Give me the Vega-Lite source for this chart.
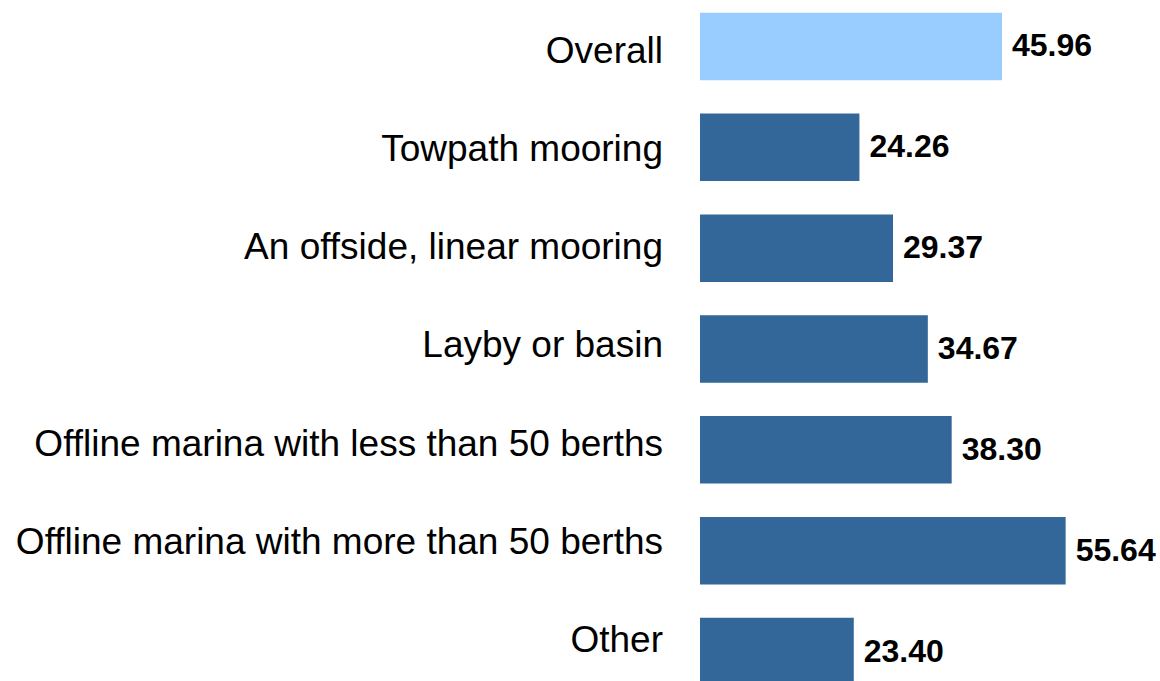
{
  "$schema": "https://vega.github.io/schema/vega-lite/v6.json",
  "autosize": {"type": "none"},
  "width": 460,
  "height": 706,
  "padding": {"left": 700, "top": -4, "right": 0, "bottom": 0},
  "background": "white",
  "config": {"view": {"stroke": null}},
  "data": {
    "values": [
      {"category": "Overall", "value": 45.96, "group": "overall"},
      {"category": "Towpath mooring", "value": 24.26, "group": "type"},
      {"category": "An offside, linear mooring", "value": 29.37, "group": "type"},
      {"category": "Layby or basin", "value": 34.67, "group": "type"},
      {"category": "Offline marina with less than 50 berths", "value": 38.30, "group": "type"},
      {"category": "Offline marina with more than 50 berths", "value": 55.64, "group": "type"},
      {"category": "Other", "value": 23.40, "group": "type"}
    ]
  },
  "resolve": {"scale": {"y": "independent"}},
  "layer": [
    {
      "layer": [
        {
          "mark": {"type": "bar"},
          "encoding": {
            "color": {
              "field": "group",
              "type": "nominal",
              "scale": {"domain": ["overall", "type"], "range": ["#99CCFF", "#336699"]},
              "legend": null
            }
          }
        },
        {
          "mark": {
            "type": "text",
            "align": "left",
            "baseline": "middle",
            "dx": 10,
            "fontSize": 32,
            "fontWeight": "bold",
            "font": "Liberation Sans",
            "color": "#000000"
          },
          "encoding": {
            "text": {"field": "value", "type": "quantitative", "format": ".2f"}
          }
        }
      ],
      "encoding": {
        "y": {
          "field": "category",
          "type": "nominal",
          "sort": null,
          "scale": {"paddingInner": 0.331, "paddingOuter": 0.1655},
          "axis": null
        },
        "x": {
          "field": "value",
          "type": "quantitative",
          "scale": {"domain": [0, 70], "nice": false},
          "axis": null
        }
      }
    },
    {
      "mark": {
        "type": "text",
        "align": "right",
        "baseline": "middle",
        "dx": -37,
        "fontSize": 37,
        "font": "Liberation Sans",
        "color": "#000000"
      },
      "encoding": {
        "y": {
          "field": "category",
          "type": "nominal",
          "sort": null,
          "scale": {"range": [6.7, 694.1], "paddingInner": 0, "paddingOuter": 0},
          "axis": null
        },
        "x": {"datum": 0, "type": "quantitative"},
        "text": {"field": "category", "type": "nominal"}
      }
    }
  ]
}
